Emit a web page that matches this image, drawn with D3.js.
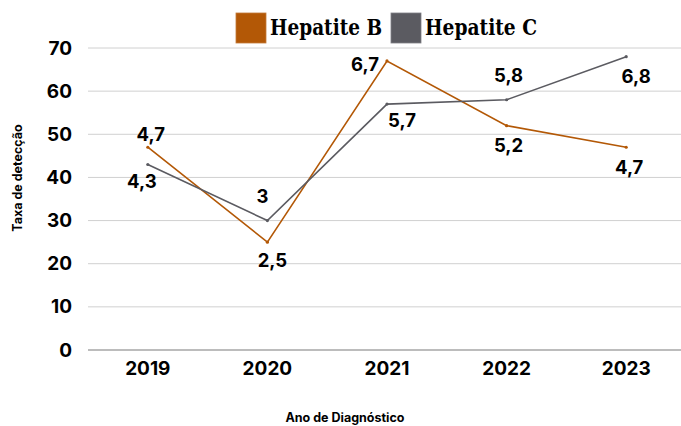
<!DOCTYPE html>
<html><head><meta charset="utf-8">
<script src="https://cdn.jsdelivr.net/npm/d3@7"></script>
<style>body{margin:0;background:#fff}svg{display:block}</style>
</head><body>
<svg id="c" width="681" height="426"></svg>
<script>
const years = ["2019","2020","2021","2022","2023"];
const hepB = [47, 25, 67, 52, 47];
const hepC = [43, 30, 57, 58, 68];
const yTicks = [0,10,20,30,40,50,60,70];
const seriesNames = ["Hepatite B","Hepatite C"];
// label offsets (style only): [dx, dy] relative to each point
const offB = [[3,-6],[5,25],[-22,10],[2,26],[3,27]];
const offC = [[-6,24],[-5,-18],[15,23],[2,-18],[10,26]];

const W=681,H=426;
const m={l:88,r:-5,t:48,b:76};
const svg=d3.select("#c");
const x=d3.scaleBand().domain(years).range([m.l,W-m.r]);
const y=d3.scaleLinear().domain([0,70]).range([H-m.b,m.t]);
const tickFont="Inter, 'Liberation Sans', sans-serif";

svg.append("g").selectAll("line").data(yTicks).join("line")
  .attr("x1",m.l).attr("x2",W).attr("y1",d=>y(d)).attr("y2",d=>y(d))
  .attr("stroke",d=>d===0?"#a6a6a6":"#d0d0d0").attr("stroke-width",d=>d===0?1.5:1);

const ya=svg.append("g").attr("transform",`translate(${m.l},0)`)
  .call(d3.axisLeft(y).tickValues(yTicks).tickSize(0).tickPadding(16));
ya.select(".domain").remove();
ya.selectAll("text").attr("font-family",tickFont).attr("font-weight","700").attr("font-size",19).attr("fill","#000");

const xa=svg.append("g").attr("transform",`translate(0,${y(0)})`)
  .call(d3.axisBottom(x).tickSize(0).tickPadding(12));
xa.select(".domain").remove();
xa.selectAll("text").attr("font-family",tickFont).attr("font-weight","700").attr("font-size",19).attr("fill","#000");

svg.append("text").attr("x",345).attr("y",422).attr("text-anchor","middle")
  .attr("font-family",tickFont).attr("font-weight","700").attr("font-size",12.5).text("Ano de Diagnóstico");
svg.append("text").attr("transform","translate(22,178) rotate(-90)").attr("text-anchor","middle")
  .attr("font-family",tickFont).attr("font-weight","700").attr("font-size",12.5).text("Taxa de detecção");

const colors=["#b35806","#5b5b61"];
const cx=(i)=>x(years[i])+x.bandwidth()/2;
const line=d3.line().x((d,i)=>cx(i)).y(d=>y(d));
[hepB,hepC].forEach((s,k)=>{
  svg.append("path").datum(s).attr("d",line).attr("fill","none")
    .attr("stroke",colors[k]).attr("stroke-width",1.6);
  svg.append("g").selectAll("circle").data(s).join("circle")
    .attr("cx",(d,i)=>cx(i)).attr("cy",d=>y(d)).attr("r",1.6).attr("fill",colors[k]);
});

const fmt=v=>String(v/10).replace(".",",");
function labels(s,off){
  svg.append("g").selectAll("text").data(s).join("text")
    .attr("x",(d,i)=>cx(i)+off[i][0])
    .attr("y",(d,i)=>y(d)+off[i][1])
    .attr("text-anchor","middle").attr("font-family",tickFont).attr("font-weight","700")
    .attr("font-size",18.5).attr("fill","#000").text(fmt);
}
labels(hepB,offB);
labels(hepC,offC);

const legX=[236,391];
seriesNames.forEach((n,k)=>{
  svg.append("rect").attr("x",legX[k]).attr("y",13).attr("width",30).attr("height",30)
    .attr("fill",colors[k]).attr("stroke",k?"#7f7f85":"#c27a3a").attr("stroke-width",0.8);
  svg.append("text").attr("x",legX[k]+34).attr("y",35).attr("font-family","'DejaVu Serif Condensed','DejaVu Serif', serif")
    .attr("font-weight","700").attr("font-size",23).attr("fill","#000")
    .attr("textLength",112).attr("lengthAdjust","spacingAndGlyphs").text(n);
});
</script>
</body></html>
